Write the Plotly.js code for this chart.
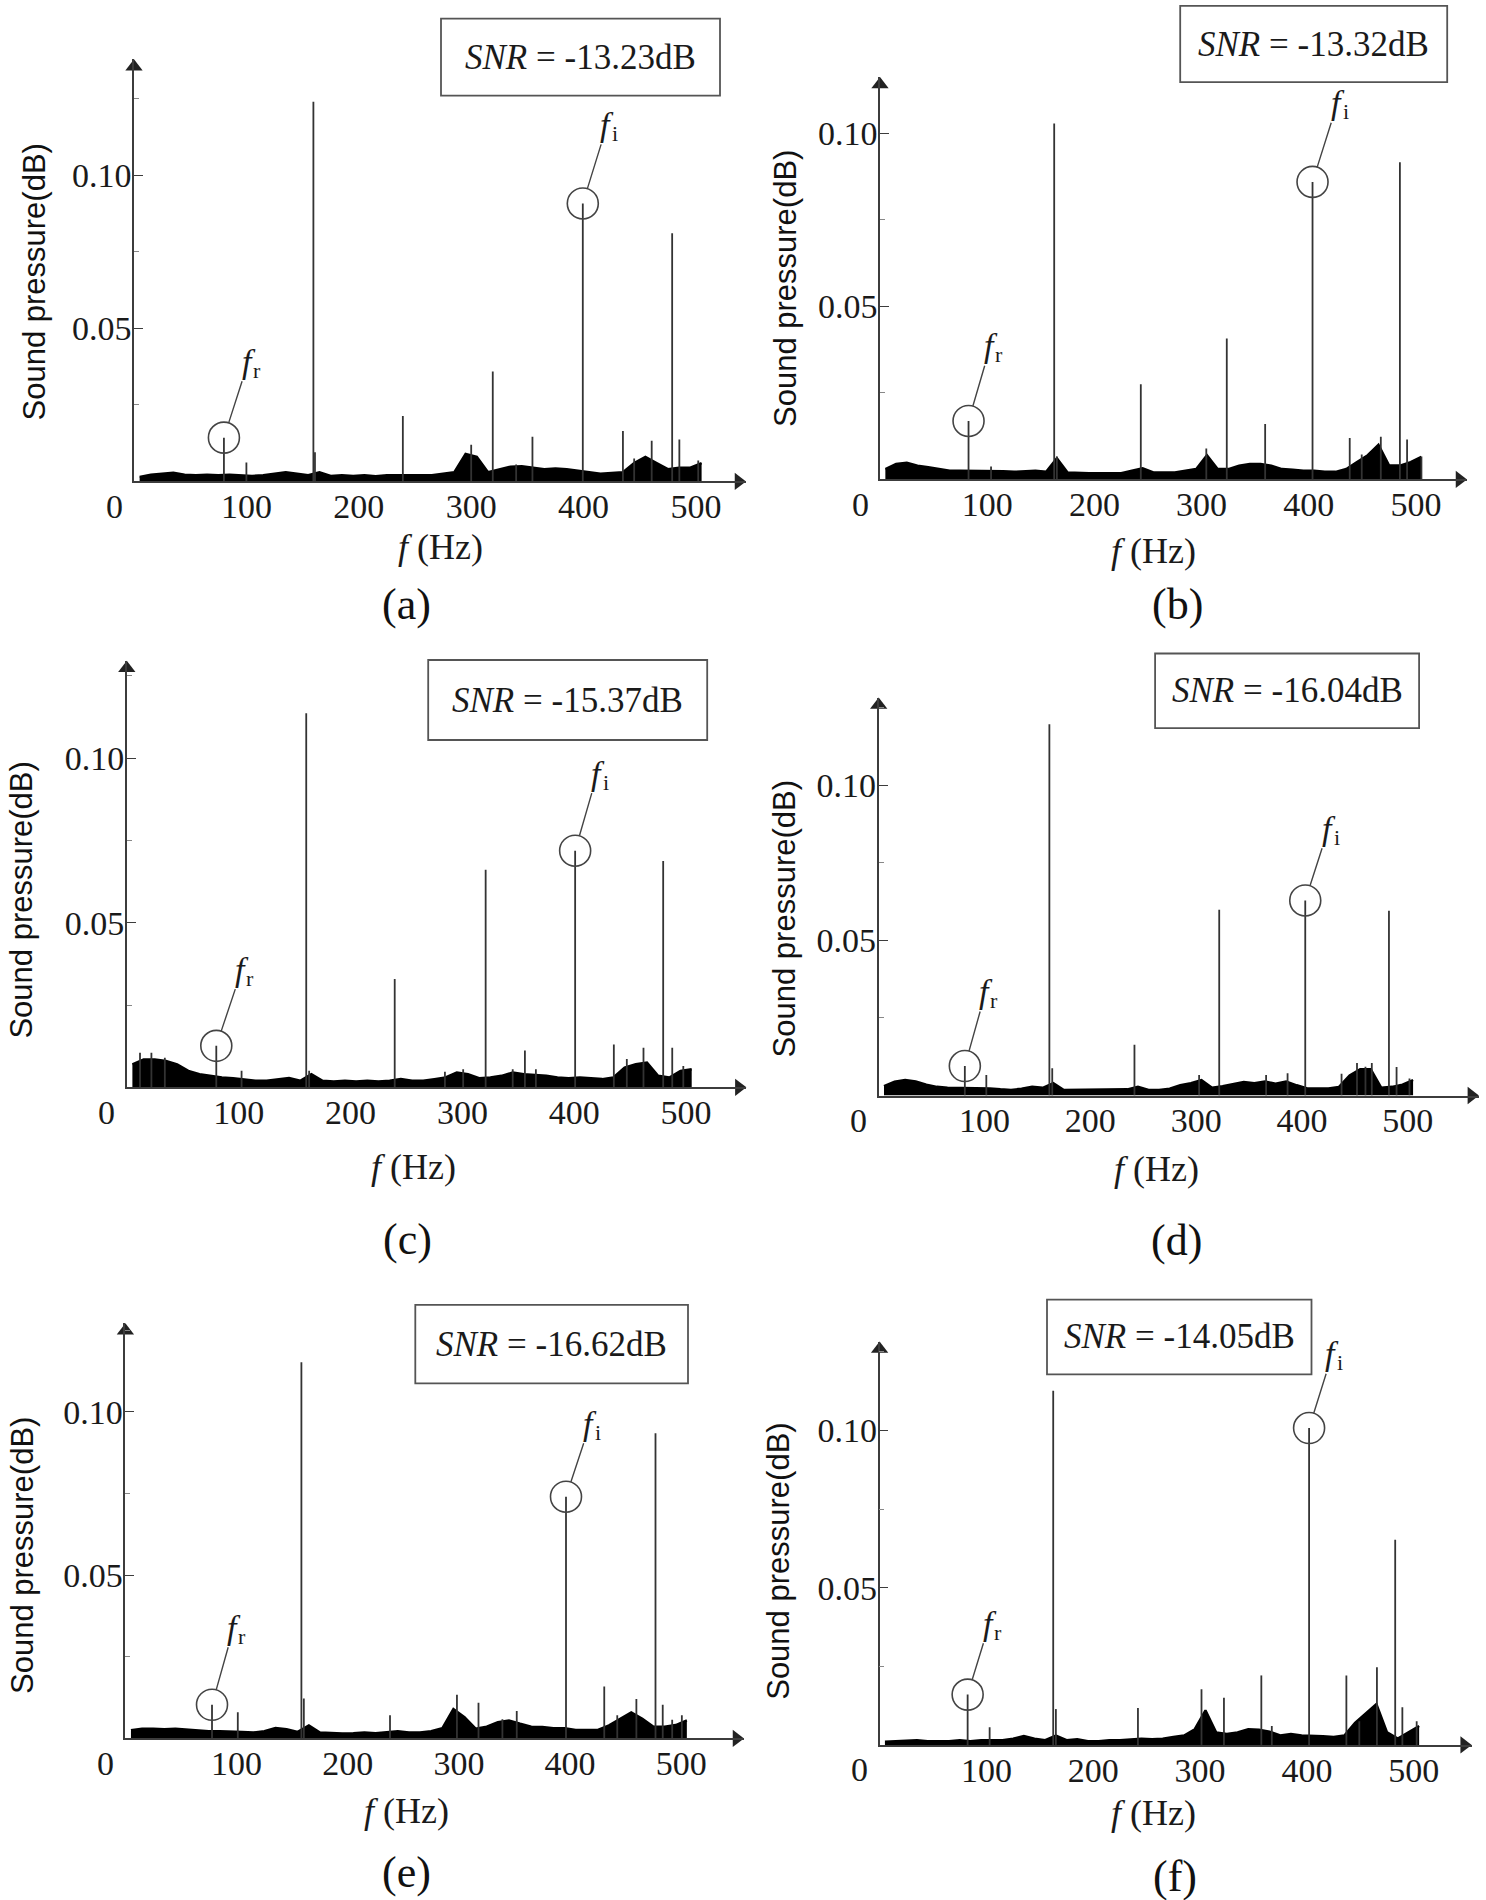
<!DOCTYPE html>
<html>
<head>
<meta charset="utf-8">
<script src="https://cdn.plot.ly/plotly-3.0.1.min.js"></script>
<style>html,body{margin:0;padding:0;background:#fff}</style>
</head>
<body>
<div id="chart" style="width:1486px;height:1900px"></div>
<script>
// ---------------- DATA ----------------
const panelLabels = ['(a)', '(b)', '(c)', '(d)', '(e)', '(f)'];
const snrValues = ['-13.23', '-13.32', '-15.37', '-16.04', '-16.62', '-14.05'];
const xTickVals = [100, 200, 300, 400, 500];
const xTickText = ['100', '200', '300', '400', '500'];
const yTickVals = [0.05, 0.10];
const yTickText = ['0.05', '0.10'];
const yMinorTicks = [0.025, 0.075, 0.125];

// noise-floor envelope, frequency grid (Hz)
const noiseFreq = [5,15,25,35,45,55,65,75,85,95,105,115,125,135,145,155,165,175,185,195,205,215,225,235,245,255,265,275,285,295,305,315,325,335,345,355,365,375,385,395,405,415,425,435,445,455,465,475,485,495,505];

// (a)
const freqA = [80, 100, 159.6, 161, 239.2, 300, 319.2, 340, 354.5, 399.3, 435, 445, 460.6, 478.8, 485.2, 502];
const ampA  = [0.0143, 0.0062, 0.124, 0.0095, 0.0214, 0.012, 0.0359, 0.0055, 0.0146, 0.0908, 0.0165, 0.0075, 0.0133, 0.0811, 0.0137, 0.0068];
const noiseA = [0.0015,0.0022,0.0025,0.0028,0.0022,0.002,0.0022,0.002,0.0022,0.002,
                0.0018,0.002,0.0025,0.003,0.0025,0.002,0.003,0.0018,0.002,0.0018,
                0.002,0.0017,0.002,0.002,0.002,0.0018,0.002,0.0025,0.003,0.009,
                0.008,0.003,0.004,0.0048,0.005,0.0045,0.004,0.0042,0.004,0.0035,
                0.003,0.0025,0.0028,0.003,0.006,0.008,0.006,0.004,0.0045,0.0045,
                0.006];
// (b)
const freqB = [82.6, 103.6, 162.5, 165, 243.3, 304.4, 323.5, 359.3, 403.5, 438.2, 449.4, 467.2, 485, 491.7, 505.1];
const ampB  = [0.0169, 0.0037, 0.1029, 0.0066, 0.0275, 0.0089, 0.0407, 0.016, 0.086, 0.012, 0.0072, 0.0123, 0.0917, 0.0115, 0.0066];
const noiseB = [0.003,0.0045,0.0048,0.004,0.0035,0.003,0.0025,0.0025,0.0025,0.0025,
                0.0025,0.0024,0.0022,0.0024,0.0025,0.0022,0.0061,0.002,0.0018,0.0018,
                0.0018,0.0018,0.0018,0.0025,0.0032,0.002,0.002,0.002,0.0025,0.003,
                0.007,0.003,0.003,0.004,0.0045,0.0045,0.004,0.003,0.0028,0.0025,
                0.0025,0.0022,0.0022,0.003,0.005,0.007,0.01,0.004,0.004,0.005,
                0.0065];
// (c)
const freqC = [11.8, 22, 34, 80, 102.6, 160.4, 163, 239.5, 284.4, 300.7, 320.8, 345, 355.9, 365.7, 400.8, 435.4, 447, 461.9, 479.5, 487.6, 497.5];
const ampC  = [0.0105, 0.0105, 0.009, 0.0126, 0.005, 0.1137, 0.005, 0.0329, 0.0047, 0.0055, 0.0661, 0.0055, 0.0112, 0.0055, 0.0719, 0.013, 0.0086, 0.012, 0.0688, 0.012, 0.0065];
const noiseC = [0.007,0.0085,0.0085,0.008,0.007,0.005,0.004,0.0035,0.003,0.0028,
                0.0025,0.002,0.002,0.0025,0.0028,0.002,0.004,0.002,0.0018,0.002,
                0.0018,0.002,0.0018,0.002,0.0025,0.002,0.002,0.0025,0.003,0.0045,
                0.004,0.0028,0.003,0.0035,0.0045,0.004,0.0038,0.0035,0.003,0.0028,
                0.003,0.0028,0.0025,0.003,0.006,0.007,0.0075,0.0035,0.003,0.005,
                0.0055];
// (d)
const freqD = [81.4, 101.7, 161.3, 164, 241.7, 302.8, 321.8, 366.1, 386.4, 403.1, 437.4, 452, 460, 466, 482.2, 489.4, 501.6];
const ampD  = [0.0095, 0.0066, 0.1197, 0.0088, 0.0164, 0.0066, 0.0599, 0.0066, 0.0072, 0.0629, 0.007, 0.0105, 0.0093, 0.0105, 0.0596, 0.0092, 0.0055];
const noiseD = [0.003,0.0045,0.005,0.0045,0.0035,0.0028,0.0025,0.0025,0.0023,0.0023,
                0.0023,0.002,0.0018,0.0022,0.0028,0.0025,0.004,0.0018,0.0018,0.0018,
                0.0018,0.0018,0.0018,0.002,0.0028,0.0018,0.0018,0.0022,0.0033,0.004,
                0.005,0.0025,0.003,0.0038,0.0044,0.004,0.0045,0.0038,0.0045,0.0033,
                0.0023,0.0023,0.0023,0.0028,0.0065,0.0085,0.0085,0.0025,0.0028,0.0035,
                0.005];
// (e)
const freqE = [77.9, 101.1, 158.3, 160.5, 238, 298.2, 317.6, 339.1, 352, 396.3, 430.7, 442.4, 459.6, 476.8, 483.3, 491.8, 500.5];
const ampE  = [0.0103, 0.008, 0.1152, 0.0122, 0.0071, 0.0134, 0.0109, 0.0059, 0.0084, 0.074, 0.0159, 0.0071, 0.0121, 0.0934, 0.0103, 0.0057, 0.0071];
const noiseE = [0.0025,0.003,0.003,0.0028,0.003,0.0027,0.0024,0.0022,0.0022,0.0022,
                0.002,0.0018,0.0022,0.0032,0.0028,0.002,0.004,0.0018,0.0016,0.0015,
                0.0016,0.0018,0.0016,0.002,0.0022,0.0018,0.0018,0.0022,0.0031,0.009,
                0.0065,0.003,0.0036,0.005,0.0055,0.0045,0.0036,0.0035,0.0031,0.0031,
                0.0026,0.0026,0.0026,0.004,0.006,0.008,0.006,0.0036,0.0036,0.0041,
                0.0055];
// (f)
const freqF = [82.4, 103, 162.5, 165, 241.8, 301.3, 322.3, 357.3, 367.1, 402, 436.9, 449, 465.5, 482.6, 489.3, 502.7];
const ampF  = [0.016, 0.0056, 0.1127, 0.0114, 0.0117, 0.0177, 0.015, 0.0221, 0.006, 0.1008, 0.0221, 0.0075, 0.0247, 0.0653, 0.012, 0.0075];
const noiseF = [0.001,0.0012,0.0015,0.0015,0.0012,0.0012,0.0012,0.0015,0.0012,0.0015,
                0.0015,0.0015,0.002,0.0028,0.002,0.0015,0.003,0.0015,0.0018,0.0012,
                0.0012,0.0015,0.0015,0.0018,0.002,0.0018,0.002,0.0025,0.003,0.005,
                0.011,0.004,0.0035,0.004,0.005,0.0048,0.0042,0.003,0.0035,0.003,
                0.003,0.0028,0.0025,0.003,0.007,0.01,0.013,0.004,0.002,0.004,
                0.006];

const frIndex = [0, 0, 3, 0, 0, 0];
const fiIndex = [9, 8, 14, 9, 9, 9];
const markSubscripts = ['r', 'i'];

const freqs = [freqA, freqB, freqC, freqD, freqE, freqF];
const amps = [ampA, ampB, ampC, ampD, ampE, ampF];
const noises = [noiseA, noiseB, noiseC, noiseD, noiseE, noiseF];

// ---------------- LAYOUT GEOMETRY (pixels of the 1486x1900 page) ----------------
const W = 1486, H = 1900;
const geom = [
  {axisX:134,   arrowX:746,    baseY:481.4,  topY:59.3,   xMax:544.5, yMax:0.1379, box:[441,18.6,720,95.7],        fr:[27.6,-74.4], fi:[27.5,-77.1], xt:[440,547],     yt:[33.5,282],   lab:[406.7,604.7]},
  {axisX:880,   arrowX:1467,   baseY:479.4,  topY:77.1,   xMax:547.6, yMax:0.1163, box:[1180.2,5.9,1447.2,82.2],   fr:[25,-73.2],   fi:[28,-77.1],   xt:[1153.7,551.4], yt:[785.4,288.6], lab:[1177.6,604.7]},
  {axisX:126.8, arrowX:746.4,  baseY:1087.3, topY:660.8,  xMax:553.9, yMax:0.1296, box:[428.2,660,707.2,740],      fr:[28.7,-74.7], fi:[25.4,-75.6], xt:[413.9,1167],  yt:[22,900.6],   lab:[407.7,1239.6]},
  {axisX:878.7, arrowX:1478.9, baseY:1095.5, topY:697.6,  xMax:567.2, yMax:0.1283, box:[1155.1,653.5,1419.1,728.2], fr:[23.9,-72.6], fi:[26.3,-70.2], xt:[1156,1169],   yt:[785.4,919],  lab:[1176.2,1240.4]},
  {axisX:125.4, arrowX:744,    baseY:1738.4, topY:1323.3, xMax:556.4, yMax:0.1271, box:[415.3,1304.9,688,1383.3],  fr:[24.8,-75.5], fi:[27.3,-71.4], xt:[406.7,1811],  yt:[22,1556],    lab:[406.7,1872.2]},
  {axisX:879.6, arrowX:1471.7, baseY:1744.9, topY:1341.6, xMax:554.2, yMax:0.1283, box:[1047,1299.6,1311.5,1374.3], fr:[24.9,-69.4], fi:[26.3,-72.3], xt:[1153.7,1813], yt:[777.8,1561],  lab:[1175.2,1876.3]}
];

const SERIF = 'Liberation Serif, Times New Roman, serif';
const SANS = 'Liberation Sans, Arial, sans-serif';
const TXT = '#1a1a1a';
const AXC = '#3c3c3c';
const ARROW_SIZE = 15;

const px = v => v / W;
const py = v => 1 - v / H;

const traces = [];
const layout = {
  width: W, height: H,
  margin: {l:0, r:0, t:0, b:0},
  paper_bgcolor: '#fff', plot_bgcolor: 'rgba(0,0,0,0)',
  showlegend: false,
  annotations: [],
  shapes: []
};

for (let i = 0; i < 6; i++) {
  const g = geom[i];
  const sfx = i === 0 ? '' : String(i + 1);
  const xa = 'x' + sfx, ya = 'y' + sfx;
  const pxPerX = (g.arrowX - g.axisX) / g.xMax;
  const pxPerY = (g.baseY - g.topY) / g.yMax;

  // noise floor band
  traces.push({
    x: noiseFreq, y: noises[i], xaxis: xa, yaxis: ya,
    type: 'scatter', mode: 'lines', fill: 'tozeroy',
    fillcolor: '#000', line: {color: '#000', width: 2.4}, hoverinfo: 'skip'
  });

  // spectral lines
  const sx = [], sy = [];
  for (let k = 0; k < freqs[i].length; k++) {
    sx.push(freqs[i][k], freqs[i][k], null);
    sy.push(0, amps[i][k], null);
  }
  traces.push({
    x: sx, y: sy, xaxis: xa, yaxis: ya,
    type: 'scatter', mode: 'lines', line: {color: '#333', width: 1.8},
    connectgaps: false, hoverinfo: 'skip'
  });

  // circles around fr and fi
  const fr = frIndex[i], fi = fiIndex[i];
  traces.push({
    x: [freqs[i][fr], freqs[i][fi]], y: [amps[i][fr], amps[i][fi]],
    xaxis: xa, yaxis: ya, type: 'scatter', mode: 'markers', cliponaxis: false,
    marker: {symbol: 'circle-open', size: 31, color: '#444', line: {width: 1.6, color: '#444'}},
    hoverinfo: 'skip'
  });

  // axis arrowheads (tip at the axis ends)
  traces.push({
    x: [0], y: [g.yMax - (ARROW_SIZE / 2) / pxPerY], xaxis: xa, yaxis: ya,
    type: 'scatter', mode: 'markers', cliponaxis: false,
    marker: {symbol: 'triangle-up', size: ARROW_SIZE, color: '#222', line: {width: 0}}, hoverinfo: 'skip'
  });
  traces.push({
    x: [g.xMax - (ARROW_SIZE / 2) / pxPerX], y: [0], xaxis: xa, yaxis: ya,
    type: 'scatter', mode: 'markers', cliponaxis: false,
    marker: {symbol: 'triangle-right', size: ARROW_SIZE, color: '#222', line: {width: 0}}, hoverinfo: 'skip'
  });

  layout['xaxis' + sfx] = {
    domain: [px(g.axisX), px(g.arrowX)], range: [0, g.xMax], anchor: ya,
    showgrid: false, zeroline: false, showline: true, linecolor: AXC, linewidth: 1.6,
    tickmode: 'array', tickvals: xTickVals, ticktext: xTickText, ticks: '',
    ticklabelstandoff: -6,
    tickfont: {family: SERIF, size: 34, color: TXT}, fixedrange: true
  };
  layout['yaxis' + sfx] = {
    domain: [py(g.baseY), py(g.topY)], range: [0, g.yMax], anchor: xa,
    showgrid: false, zeroline: false, showline: true, linecolor: AXC, linewidth: 1.6,
    tickmode: 'array', tickvals: yTickVals, ticktext: yTickText,
    ticks: 'inside', ticklen: 9, tickwidth: 1.4, tickcolor: AXC,
    minor: {tickmode: 'array', tickvals: yMinorTicks, ticks: 'inside', ticklen: 5, tickwidth: 1.1, tickcolor: '#888'},
    ticklabelstandoff: -6,
    tickfont: {family: SERIF, size: 34, color: TXT}, fixedrange: true
  };

  const A = layout.annotations;
  // origin label
  A.push({xref: xa, yref: ya, x: 0, y: 0, text: '0', showarrow: false, xshift: -20, yshift: -25,
          font: {family: SERIF, size: 34, color: TXT}});
  // fr / fi labels with leader lines (italic f + separate subscript)
  const marks = [[fr, g.fr], [fi, g.fi]];
  marks.forEach(([idx, off], m) => {
    A.push({xref: xa, yref: ya, x: freqs[i][idx], y: amps[i][idx], text: '<i>f</i>',
            showarrow: true, arrowhead: 0, arrowwidth: 1.4, arrowcolor: '#444', standoff: 15.5,
            ax: off[0] - 3, ay: off[1] - 2, font: {family: SERIF, size: 34, color: TXT}});
    A.push({xref: xa, yref: ya, x: freqs[i][idx], y: amps[i][idx], text: markSubscripts[m],
            showarrow: false, xshift: off[0] + 5, yshift: -(off[1] + 7),
            font: {family: SERIF, size: 22, color: TXT}});
  });
  // SNR box
  layout.shapes.push({type: 'rect', xref: 'paper', yref: 'paper',
    x0: px(g.box[0]), x1: px(g.box[2]), y0: py(g.box[3]), y1: py(g.box[1]),
    line: {color: '#555', width: 1.8}, fillcolor: 'rgba(0,0,0,0)'});
  A.push({xref: 'paper', yref: 'paper', x: px((g.box[0] + g.box[2]) / 2), y: py((g.box[1] + g.box[3]) / 2),
          xanchor: 'center', yanchor: 'middle', showarrow: false,
          text: '<i>SNR</i> = ' + snrValues[i] + 'dB', font: {family: SERIF, size: 35, color: TXT}});
  // axis titles
  A.push({xref: 'paper', yref: 'paper', x: px(g.xt[0]), y: py(g.xt[1]), xanchor: 'center', yanchor: 'middle',
          showarrow: false, text: '<i>f</i> (Hz)', font: {family: SERIF, size: 36, color: TXT}});
  A.push({xref: 'paper', yref: 'paper', x: px(g.yt[0]), y: py(g.yt[1]), xanchor: 'center', yanchor: 'middle',
          showarrow: false, textangle: -90, text: 'Sound pressure(dB)', font: {family: SANS, size: 31, color: '#111'}});
  // panel label
  A.push({xref: 'paper', yref: 'paper', x: px(g.lab[0]), y: py(g.lab[1]), xanchor: 'center', yanchor: 'middle',
          showarrow: false, text: panelLabels[i], font: {family: SERIF, size: 44, color: '#111'}});
}

Plotly.newPlot('chart', traces, layout, {displayModeBar: false, responsive: false});
</script>
</body>
</html>
